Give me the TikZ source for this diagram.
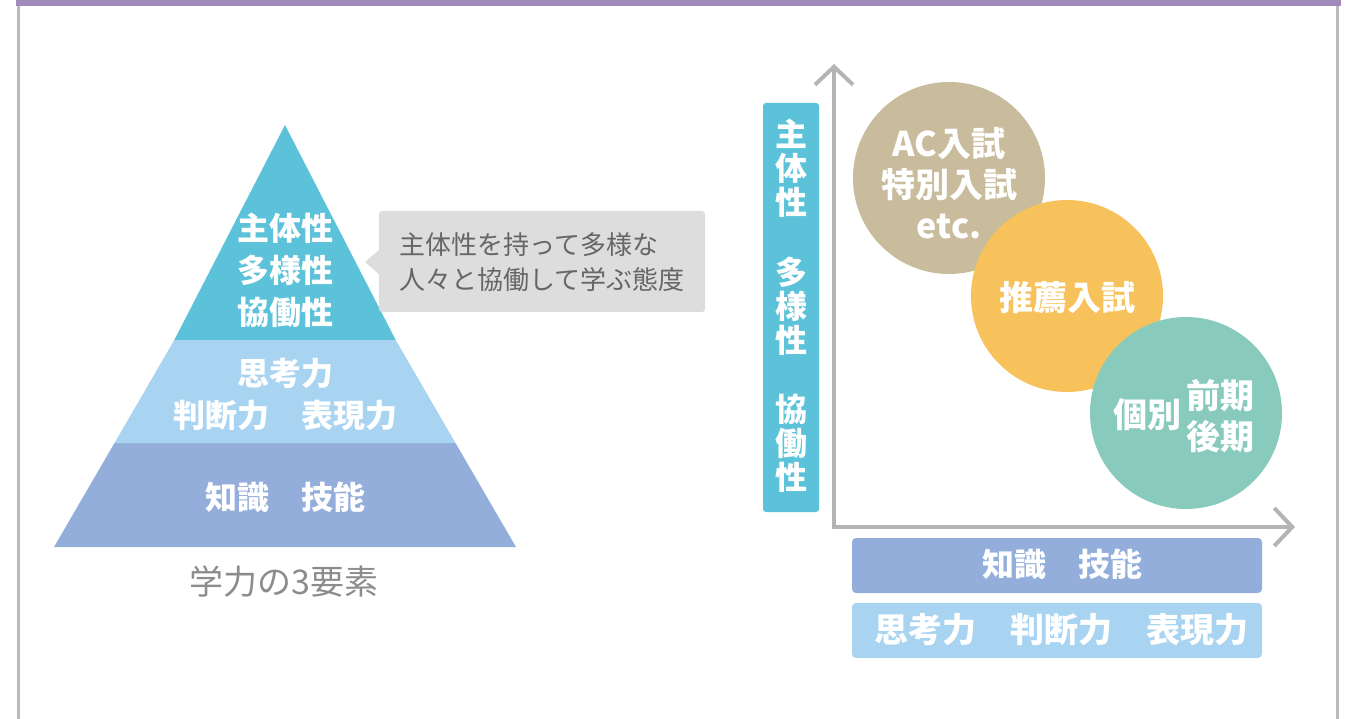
\documentclass[tikz,border=0pt]{standalone}
\usepackage{fontspec}
\setmainfont{Noto Sans CJK JP}
\usetikzlibrary{arrows.meta}
\definecolor{topbar}{HTML}{9F8AB9}
\definecolor{frame}{HTML}{BBBBBB}
\definecolor{teal}{HTML}{5BC2D9}
\definecolor{lblue}{HTML}{A8D4F1}
\definecolor{mblue}{HTML}{93AEDB}
\definecolor{cgray}{HTML}{DCDDDC}
\definecolor{ctext}{HTML}{666666}
\definecolor{tan}{HTML}{C9BC9C}
\definecolor{orng}{HTML}{F7C15B}
\definecolor{mint}{HTML}{88CABC}
\definecolor{axisgray}{HTML}{B4B4B4}
\definecolor{capgray}{HTML}{8C8C8C}
\tikzset{
  wlabel/.style={text=white, font=\bfseries\fontsize{32}{42}\selectfont, align=center, inner sep=0pt},
  vlabel/.style={text=white, font=\bfseries\fontsize{32}{34}\selectfont, align=center, inner sep=0pt},
  clabel/.style={text=white, font=\bfseries\fontsize{34}{41}\selectfont, align=center, inner sep=0pt},
  bubble/.style={circle, minimum size=192pt, inner sep=0pt},
  barbox/.style={rounded corners=4pt, minimum width=410pt, minimum height=55pt, inner sep=0pt},
  axisline/.style={draw=axisgray, line width=4pt, -{Straight Barb[length=18pt,width=38pt,line width=4pt]}}
}
\begin{document}
\begin{tikzpicture}[x=1pt,y=-1pt]
\useasboundingbox (0,0) rectangle (1345,719);
% frame
\fill[topbar] (16,0) rectangle (1341,6);
\fill[frame] (16.5,6) rectangle (19.5,719);
\fill[frame] (1335.5,6) rectangle (1338.5,719);
% pyramid
\coordinate (apex) at (285,125);
\fill[mblue] (54,547) -- (516,547) -- (455.5,443) -- (114.5,443) -- cycle;
\fill[lblue] (114.5,443) -- (455.5,443) -- (395.7,340) -- (174.3,340) -- cycle;
\fill[teal] (174.3,340) -- (395.7,340) -- (apex) -- cycle;
\node[wlabel] (p1) at (285,270) {主体性\\多様性\\協働性};
\node[wlabel] (p2) at (285,394) {思考力\\判断力　表現力};
\node[wlabel] (p3) at (285,497) {知識　技能};
\node[text=capgray, font=\fontsize{34}{38}\selectfont, inner sep=0pt] (cap) at (284,582) {学力の3要素};
% callout
\node[fill=cgray, rounded corners=3pt, minimum width=326pt, minimum height=101pt, inner sep=0pt] (callout) at (542,261.5) {};
\fill[cgray] (380,249) -- (365,262) -- (380,275) -- cycle;
\node[text=ctext, font=\fontsize{26}{35}\selectfont, align=left, inner sep=0pt] (ctxt) at (542,262) {主体性を持って多様な\\人々と協働して学ぶ態度};
% chart axes
\coordinate (org) at (834,527);
\coordinate (ytop) at (834,64);
\coordinate (xend) at (1295,527);
\draw[axisline] (834,529) -- (ytop);
\draw[axisline] (832,527) -- (xend);
% vertical bar
\node[fill=teal, rounded corners=3pt, minimum width=56pt, minimum height=409pt, inner sep=0pt] (vbar) at (791,307.5) {};
\node[vlabel] (v1) at (791,168) {主\\体\\性};
\node[vlabel] (v2) at (791,306) {多\\様\\性};
\node[vlabel] (v3) at (791,443) {協\\働\\性};
% circles
\node[bubble, fill=tan] (c1) at (949,178) {};
\node[bubble, fill=orng] (c2) at (1067,296) {};
\node[bubble, fill=mint] (c3) at (1186,413) {};
\node[clabel] (t1) at (949,183) {AC入試\\特別入試\\etc.};
\node[clabel] (t2) at (1067,298) {推薦入試};
\node[clabel] (t3a) at (1147,415) {個別};
\node[clabel] (t3b) at (1220,416) {前期\\後期};
% bottom bars
\node[barbox, fill=mblue] (b1) at (1057,565.5) {};
\node[wlabel] (b1t) at (1062,564) {知識　技能};
\node[barbox, fill=lblue] (b2) at (1057,630.5) {};
\node[text=white, font=\bfseries\fontsize{34}{40}\selectfont, inner sep=0pt] (b2t) at (1061,630) {思考力　判断力　表現力};
\end{tikzpicture}
\end{document}
